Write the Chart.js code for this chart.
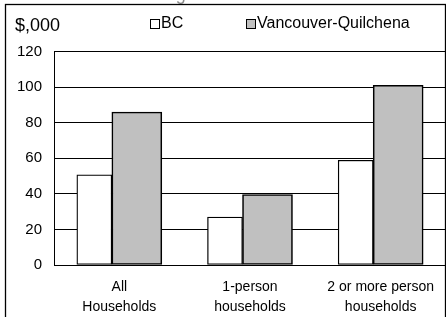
<!DOCTYPE html>
<html>
<head>
<meta charset="utf-8">
<script src="https://cdn.jsdelivr.net/npm/chart.js@4"></script>
<style>
  html, body { margin: 0; padding: 0; background: #fff; }
  canvas { display: block; }
</style>
</head>
<body>
<canvas id="chart" width="446" height="317"></canvas>
<script>
// Kategoriler ve seriler
const categories = [['All', 'Households'], ['1-person', 'households'], ['2 or more person', 'households']];
const seriesNames = ['BC', 'Vancouver-Quilchena'];
const bcValues = [50.7, 27.0, 58.9];
const vqValues = [86.0, 39.6, 101.0];
const yTicks = [0, 20, 40, 60, 80, 100, 120];
const unitLabel = '$,000';
const titleText = 'Average Household Income';

const FONT = "'Liberation Sans', Arial, sans-serif";
Chart.defaults.font.family = FONT;
Chart.defaults.color = '#000';

// Çerçeve, birim etiketi ve açıklama (legend)
const framePlugin = {
    id: 'framePlugin',
    afterDraw(chart) {
        const ctx = chart.ctx;
        ctx.save();

        // üstte kesilmiş başlık
        ctx.fillStyle = '#8a8a8a';
        ctx.font = `18px ${FONT}`;
        ctx.textAlign = 'center';
        ctx.textBaseline = 'alphabetic';
        ctx.fillText(titleText, 240, 0);

        // çerçeve
        ctx.strokeStyle = '#000';
        ctx.lineWidth = 1.3;
        ctx.strokeRect(5.5, 4.5, 440, 330);

        // birim
        ctx.fillStyle = '#000';
        ctx.font = `18px ${FONT}`;
        ctx.textAlign = 'left';
        ctx.textBaseline = 'middle';
        ctx.fillText(unitLabel, 15, 26);

        // legend
        const itemX = [150, 246];
        ctx.font = `16px ${FONT}`;
        chart.data.datasets.forEach((ds, i) => {
            const x = itemX[i];
            ctx.fillStyle = ds.backgroundColor;
            ctx.fillRect(x + 0.5, 19.5, 9, 9);
            ctx.lineWidth = 1;
            ctx.strokeStyle = '#000';
            ctx.strokeRect(x + 0.5, 19.5, 9, 9);
            ctx.fillStyle = '#000';
            ctx.fillText(ds.label, x + 11, 24);
        });

        ctx.restore();
    }
};

const toPoints = values => values.map((v, i) => ({ x: i, y: v }));

new Chart(document.getElementById('chart'), {
    type: 'bar',
    data: {
        datasets: [
            {
                label: seriesNames[0],
                data: toPoints(bcValues),
                backgroundColor: '#ffffff',
                borderColor: '#000000',
                borderWidth: 1.3,
                borderSkipped: false,
                barThickness: 35
            },
            {
                label: seriesNames[1],
                data: toPoints(vqValues),
                backgroundColor: '#c0c0c0',
                borderColor: '#000000',
                borderWidth: 1.6,
                borderSkipped: false,
                barThickness: 50
            }
        ]
    },
    options: {
        responsive: false,
        animation: false,
        layout: { padding: { top: 51.5, left: 0, right: 0, bottom: 0 } },
        plugins: {
            legend: { display: false },
            tooltip: { enabled: false }
        },
        scales: {
            x: {
                type: 'linear',
                min: -0.4426,
                max: 2.5574,
                bounds: 'data',
                offset: false,
                afterBuildTicks: s => { s.ticks = categories.map((c, i) => ({ value: i })); },
                grid: { display: false },
                border: { display: false },
                ticks: {
                    autoSkip: false,
                    maxRotation: 0,
                    labelOffset: 7.5,
                    padding: 4,
                    font: { size: 14, lineHeight: 1.45 },
                    callback: v => categories[v] || ''
                },
                afterFit: s => { s.height = 52; }
            },
            y: {
                min: 0,
                max: 120,
                afterBuildTicks: s => { s.ticks = yTicks.map(v => ({ value: v })); },
                grid: { color: '#000', lineWidth: 1, drawTicks: false },
                border: { display: true, color: '#000', width: 1 },
                ticks: { padding: 12, font: { size: 15 } },
                afterFit: s => { s.width = 54; }
            }
        }
    },
    plugins: [framePlugin]
});
</script>
</body>
</html>
